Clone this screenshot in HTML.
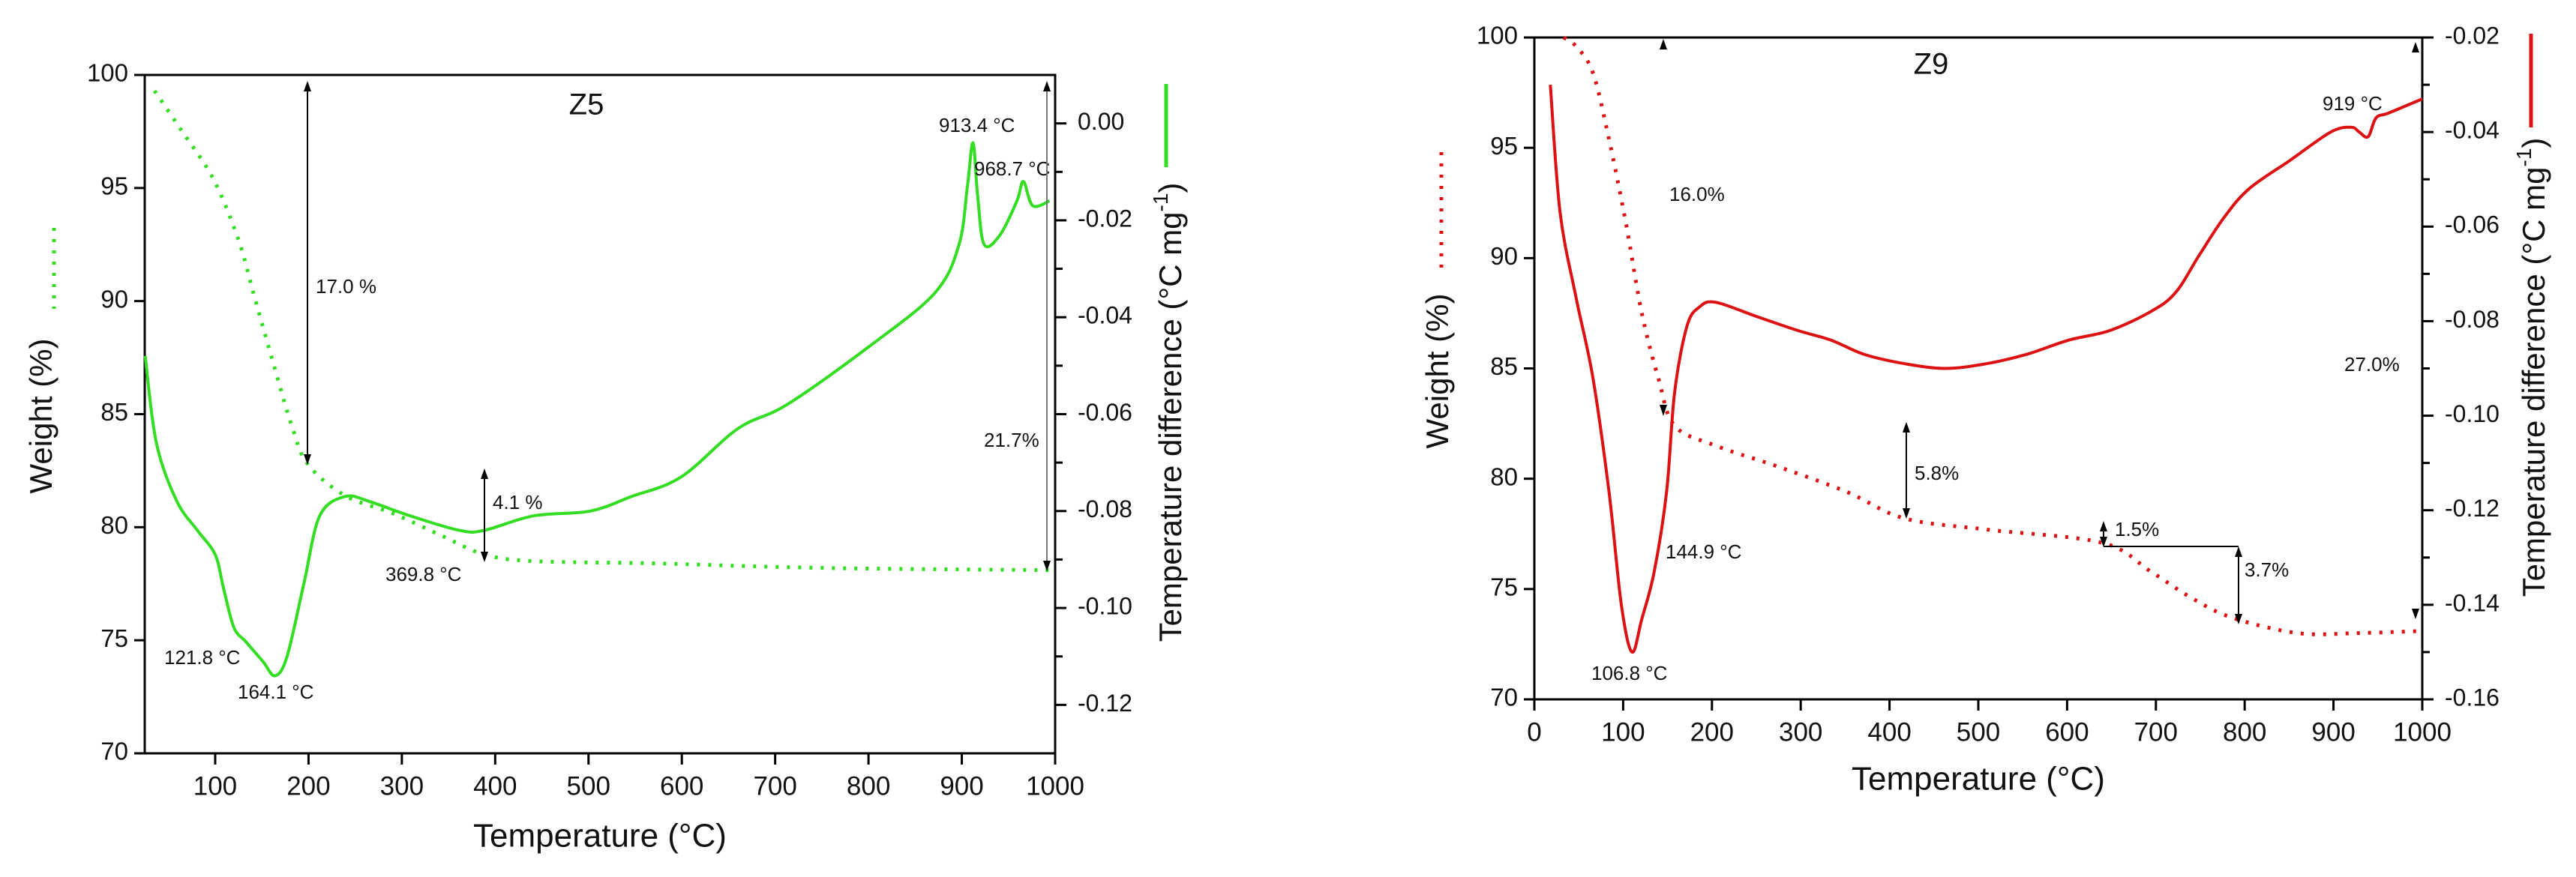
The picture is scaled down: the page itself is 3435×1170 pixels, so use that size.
<!DOCTYPE html>
<html><head><meta charset="utf-8"><style>
html,body{margin:0;padding:0;background:#fff;}
svg{display:block;font-family:"Liberation Sans",sans-serif;}
</style></head><body>
<svg id="fig" width="3435" height="1170" viewBox="0 0 3435 1170" xmlns="http://www.w3.org/2000/svg"></svg>
<script>
// ---- Z5 data ----
const z5DtaT = [25,37,59,81,100,109,120,133,151,164,177,195,212,239,265,309,362,388,441,502,546,599,660,713,801,871,897,906,912,917,924,941,959,966,976,994];
const z5DtaV = [-0.048,-0.066,-0.078,-0.084,-0.089,-0.096,-0.104,-0.107,-0.111,-0.114,-0.110,-0.095,-0.081,-0.077,-0.078,-0.081,-0.084,-0.084,-0.081,-0.080,-0.077,-0.073,-0.063,-0.058,-0.046,-0.035,-0.025,-0.013,-0.004,-0.015,-0.025,-0.023,-0.016,-0.012,-0.017,-0.016];
const z5TgT = [35,63,98,125,142,164,182,199,239,291,344,388,441,572,748,994];
const z5TgW = [99.3,97.6,95.4,92.7,90.2,87.0,84.5,82.8,81.4,80.6,79.6,78.8,78.5,78.4,78.2,78.1];
const z5XTicks = [100,200,300,400,500,600,700,800,900,1000];
const z5YTicks = [70,75,80,85,90,95,100];
const z5RTicks = ["0.00","-0.02","-0.04","-0.06","-0.08","-0.10","-0.12"];
// ---- Z9 data ----
const z9DtaT = [18,29,47,66,84,98,110,121,135,149,158,172,186,204,250,297,334,371,417,463,509,555,602,648,694,722,749,777,805,851,897,920,929,939,948,962,1000];
const z9DtaV = [-0.030,-0.057,-0.075,-0.092,-0.116,-0.140,-0.150,-0.143,-0.133,-0.116,-0.095,-0.081,-0.077,-0.076,-0.079,-0.082,-0.084,-0.087,-0.089,-0.090,-0.089,-0.087,-0.084,-0.082,-0.078,-0.074,-0.066,-0.058,-0.052,-0.046,-0.040,-0.039,-0.040,-0.041,-0.037,-0.036,-0.033];
const z9TgT = [33,47,66,84,103,121,140,158,204,278,352,417,509,639,694,740,786,860,925,1000];
const z9TgW = [100,99.6,98.4,95.4,91.6,87.5,84.5,82.4,81.5,80.5,79.4,78.2,77.7,77.1,75.8,74.6,73.7,73.0,73.0,73.1];
const z9XTicks = [0,100,200,300,400,500,600,700,800,900,1000];
const z9YTicks = [70,75,80,85,90,95,100];
const z9RTicks = ["-0.02","-0.04","-0.06","-0.08","-0.10","-0.12","-0.14","-0.16"];

const NS="http://www.w3.org/2000/svg";
const svg=document.getElementById('fig');
function mk(tag,attrs,parent){const e=document.createElementNS(NS,tag);for(const k in attrs)e.setAttribute(k,attrs[k]);(parent||svg).appendChild(e);return e;}
function txt(s,x,y,size,anchor,parent,extra){const t=mk('text',Object.assign({x:x,y:y,'font-size':size,'text-anchor':anchor||'start','dominant-baseline':'middle',fill:'#111'},extra||{}),parent);t.textContent=s;return t;}
function smooth(p){
  let d='M'+p[0][0]+','+p[0][1];
  for(let i=0;i<p.length-1;i++){
    const p0=p[Math.max(0,i-1)],p1=p[i],p2=p[i+1],p3=p[Math.min(p.length-1,i+2)];
    const c1=[p1[0]+(p2[0]-p0[0])/6,p1[1]+(p2[1]-p0[1])/6];
    const c2=[p2[0]-(p3[0]-p1[0])/6,p2[1]-(p3[1]-p1[1])/6];
    d+=` C${c1[0].toFixed(1)},${c1[1].toFixed(1)} ${c2[0].toFixed(1)},${c2[1].toFixed(1)} ${p2[0].toFixed(1)},${p2[1].toFixed(1)}`;
  }
  return d;
}

function chart(c){
  const g=mk('g',{});
  
  
  const X=t=>c.x0+(t-c.tmin)/(c.tmax-c.tmin)*(c.x1-c.x0);
  const Y=w=>c.y1-(w-70)/30*(c.y1-c.y0);
  const R=v=>c.y0+(c.rmax-v)/(c.rmax-c.rmin)*(c.y1-c.y0);
  const fr=mk('rect',{x:c.x0,y:c.y0,width:c.x1-c.x0,height:c.y1-c.y0,fill:'none',stroke:'#000','stroke-width':3},g);
  
  
  c.xt.forEach(t=>{const x=X(t);mk('line',{x1:x,y1:c.y1,x2:x,y2:c.y1+15,stroke:'#000','stroke-width':3},g);
    const l=txt(String(t),x,c.y1+46,35,'middle',g);
    
    });
  c.yt.forEach(w=>{const y=Y(w);mk('line',{x1:c.x0-14,y1:y,x2:c.x0,y2:y,stroke:'#000','stroke-width':3},g);
    const l=txt(String(w),c.x0-22,y,33,'end',g);
    
    });
  c.rt.forEach((s,i)=>{const v=parseFloat(s);const y=R(v);mk('line',{x1:c.x1,y1:y,x2:c.x1+15,y2:y,stroke:'#000','stroke-width':3},g);
    const m=R(v-0.01); if(m<c.y1-2) mk('line',{x1:c.x1,y1:m,x2:c.x1+10,y2:m,stroke:'#000','stroke-width':3},g);
    const l=txt(s,c.x1+30,y,32,'start',g);
    
    });
  const tg=mk('path',{d:smooth(c.tgT.map((t,i)=>[X(t),Y(c.tgW[i])])),fill:'none',stroke:c.color,'stroke-width':5,'stroke-dasharray':'4 11','stroke-linecap':'butt'},g);
  
  
  const dta=mk('path',{d:smooth(c.dT.map((t,i)=>[X(t),R(c.dV[i])])),fill:'none',stroke:c.color,'stroke-width':4,'stroke-linejoin':'round'},g);
  
  
  const xt=txt('Temperature (\u00B0C)',(c.x0+c.x1)/2,c.xtY,44,'middle',g);
  
  
  const yl=txt('Weight (%)',c.ylX,c.ylY,42,'middle',g,{transform:`rotate(-90 ${c.ylX} ${c.ylY})`});
  
  
  const rl=mk('text',{x:c.rlX,y:c.rlY,'font-size':42,'text-anchor':'middle','dominant-baseline':'middle',fill:'#111',transform:`rotate(-90 ${c.rlX} ${c.rlY})`},g);
  rl.innerHTML='Temperature difference (\u00B0C mg<tspan dy="-14" font-size="28">-1</tspan><tspan dy="14">)</tspan>';
  
  
  const lg1=mk('line',{x1:c.legLX,y1:c.legL[0],x2:c.legLX,y2:c.legL[1],stroke:c.color,'stroke-width':5},g);
  
  
  const lg2=mk('line',{x1:c.legDX,y1:c.legD[0],x2:c.legDX,y2:c.legD[1],stroke:c.color,'stroke-width':5,'stroke-dasharray':'4 11'},g);
  
  
  return g;
}
function arrow(x,y1,y2,g,col){
  mk('line',{x1:x,y1:y1+8,x2:x,y2:y2-8,stroke:col||'#000','stroke-width':2},g);
  mk('polygon',{points:`${x-5},${y1+14} ${x+5},${y1+14} ${x},${y1}`,fill:'#000'},g);
  mk('polygon',{points:`${x-5},${y2-14} ${x+5},${y2-14} ${x},${y2}`,fill:'#000'},g);
}

const g1=chart({name:'z5-chart',x0:193,x1:1407,y0:100,y1:1005,tmin:24.5,tmax:1000,rmax:0.01,rmin:-0.13,
  xt:z5XTicks,yt:z5YTicks,rt:z5RTicks,tgT:z5TgT,tgW:z5TgW,dT:z5DtaT,dV:z5DtaV,color:'#33dd22',
  xtY:1118,ylX:58,ylY:555,rlX:1564,rlY:550,legLX:1555,legL:[112,223],legDX:72,legD:[304,412]});
const g2=chart({name:'z9-chart',x0:2046,x1:3230,y0:50,y1:933,tmin:0,tmax:1000,rmax:-0.02,rmin:-0.16,
  xt:z9XTicks,yt:z9YTicks,rt:z9RTicks,tgT:z9TgT,tgW:z9TgW,dT:z9DtaT,dV:z9DtaV,color:'#dd1111',
  xtY:1042,ylX:1920,ylY:495,rlX:3382,rlY:490,legLX:3375,legL:[45,170],legDX:1922,legD:[203,360]});

const a1=mk('g',{},g1);


txt('Z5',782,142,40,'middle',a1);
arrow(410,108,620,a1);
txt('17.0 %',421,384,26,'start',a1);
arrow(646,625,750,a1);
txt('4.1 %',657,672,26,'start',a1);
txt('369.8 \u00B0C',514,768,26,'start',a1);
txt('121.8 \u00B0C',219,879,26,'start',a1);
txt('164.1 \u00B0C',317,925,26,'start',a1);
txt('913.4 \u00B0C',1252,169,26,'start',a1);
txt('968.7 \u00B0C',1299,227,26,'start',a1);
txt('21.7%',1312,589,26,'start',a1);
arrow(1396,108,762,a1,'#777');
const a2=mk('g',{},g2);


txt('Z9',2575,88,40,'middle',a2);
txt('16.0%',2226,261,26,'start',a2);
mk('polygon',{points:'2213,66 2223,66 2218,52',fill:'#000'},a2);
mk('polygon',{points:'2213,540 2223,540 2218,555',fill:'#000'},a2);
arrow(2542,563,692,a2);
txt('5.8%',2553,633,26,'start',a2);
arrow(2805,695,730,a2);
txt('1.5%',2820,708,26,'start',a2);
mk('line',{x1:2805,y1:729,x2:2985,y2:729,stroke:'#000','stroke-width':2},a2);
arrow(2985,729,833,a2);
txt('3.7%',2993,762,26,'start',a2);
txt('144.9 \u00B0C',2221,738,26,'start',a2);
txt('106.8 \u00B0C',2122,900,26,'start',a2);
txt('919 \u00B0C',3097,140,26,'start',a2);
txt('27.0%',3126,488,26,'start',a2);
mk('polygon',{points:'3216,70 3226,70 3221,56',fill:'#000'},a2);
mk('polygon',{points:'3216,812 3226,812 3221,826',fill:'#000'},a2);
</script>
</body></html>
